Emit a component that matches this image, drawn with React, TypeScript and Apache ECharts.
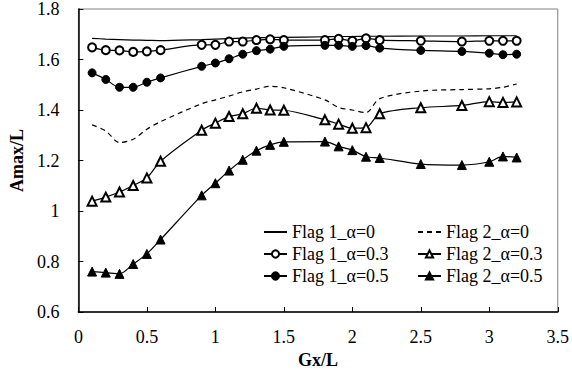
import React, { useEffect, useRef, useState } from "react";
import * as echarts from "echarts";

const xValues = [0.1, 0.2, 0.3, 0.4, 0.5, 0.6, 0.9, 1.0, 1.1, 1.2, 1.3, 1.4, 1.5, 1.8, 1.9, 2.0, 2.1, 2.2, 2.5, 2.8, 3.0, 3.1, 3.2];

const flag1Alpha0 = [1.684, 1.681, 1.679, 1.677, 1.676, 1.675, 1.679, 1.681, 1.683, 1.685, 1.686, 1.687, 1.688, 1.690, 1.691, 1.691, 1.692, 1.692, 1.693, 1.693, 1.694, 1.694, 1.694];
const flag1Alpha03 = [1.648, 1.637, 1.636, 1.630, 1.632, 1.637, 1.658, 1.658, 1.671, 1.671, 1.677, 1.680, 1.677, 1.677, 1.682, 1.674, 1.684, 1.677, 1.674, 1.671, 1.674, 1.674, 1.674];
const flag1Alpha05 = [1.547, 1.521, 1.490, 1.490, 1.510, 1.527, 1.573, 1.586, 1.603, 1.621, 1.635, 1.641, 1.652, 1.656, 1.656, 1.652, 1.655, 1.645, 1.636, 1.632, 1.625, 1.619, 1.621];
const flag2Alpha0 = [1.341, 1.317, 1.271, 1.284, 1.324, 1.354, 1.425, 1.44, 1.455, 1.472, 1.483, 1.494, 1.488, 1.44, 1.41, 1.40, 1.39, 1.445, 1.475, 1.481, 1.484, 1.49, 1.503];
const flag2Alpha03 = [1.039, 1.055, 1.075, 1.101, 1.131, 1.197, 1.320, 1.348, 1.374, 1.385, 1.407, 1.400, 1.399, 1.361, 1.344, 1.328, 1.330, 1.385, 1.409, 1.418, 1.433, 1.430, 1.432];
const flag2Alpha05 = [0.760, 0.756, 0.751, 0.790, 0.830, 0.887, 1.062, 1.110, 1.160, 1.203, 1.239, 1.262, 1.274, 1.275, 1.256, 1.241, 1.215, 1.210, 1.186, 1.182, 1.195, 1.216, 1.212];

const seriesNames = [
  "Flag 1_α=0",
  "Flag 1_α=0.3",
  "Flag 1_α=0.5",
  "Flag 2_α=0",
  "Flag 2_α=0.3",
  "Flag 2_α=0.5",
];

const FONT = "Liberation Serif";

const pair = (ys: number[]) => xValues.map((x, i) => [x, ys[i]]);

const makeSeries = (name: string, ys: number[], symbol: string, size: number, dashed = false) => ({
  type: "line",
  name,
  data: pair(ys),
  smooth: 0.3,
  symbol,
  symbolSize: size,
  showSymbol: symbol !== "none",
  color: "#000",
  lineStyle: { color: "#000", width: 1.2, type: dashed ? [5, 4] : "solid" },
  itemStyle: { color: "#000", borderColor: "#000", borderWidth: 1 },
  emphasis: { disabled: true },
});

export default function App() {
  const ref = useRef<HTMLDivElement>(null);
  const [tick, setTick] = useState(0);
  useEffect(() => {
    if (!ref.current) return;
    const chart = echarts.init(ref.current, null, { renderer: "svg" });
    const legendCommon = () => ({
      orient: "vertical",
      top: 218,
      itemWidth: 23,
      itemHeight: 9,
      itemGap: 4,
      textStyle: { fontFamily: FONT, fontSize: 18, color: "#000" },
      selectedMode: false,
    });
    const noMarker = (name: string) => ({ name, itemStyle: { opacity: 0 } });
    chart.setOption({
      animation: false,
      textStyle: { fontFamily: FONT },
      grid: {
        left: 73,
        right: 13,
        top: 7,
        bottom: 64,
        show: true,
        borderColor: "#808080",
        borderWidth: 1,
      },
      xAxis: {
        type: "value",
        min: 0,
        max: 3.5,
        interval: 0.5,
        name: "Gx/L",
        nameLocation: "middle",
        nameGap: 39,
        nameTextStyle: { fontFamily: FONT, fontSize: 18, fontWeight: "bold", color: "#000" },
        axisLine: { show: true, lineStyle: { color: "#000", width: 1.5 } },
        axisTick: { show: true, inside: true, length: 5, lineStyle: { color: "#000" } },
        axisLabel: { fontFamily: FONT, fontSize: 18, color: "#000", margin: 16 },
        splitLine: { show: false },
      },
      yAxis: {
        type: "value",
        min: 0.6,
        max: 1.8,
        interval: 0.2,
        name: "Amax/L",
        nameLocation: "middle",
        nameGap: 52,
        nameTextStyle: { fontFamily: FONT, fontSize: 18, fontWeight: "bold", color: "#000" },
        axisLine: { show: true, lineStyle: { color: "#000", width: 1.5 } },
        axisTick: { show: true, inside: true, length: 5, lineStyle: { color: "#000" } },
        axisLabel: { fontFamily: FONT, fontSize: 18, color: "#000", margin: 19 },
        splitLine: { show: false },
      },
      legend: [
        { ...legendCommon(), left: 258, data: [noMarker(seriesNames[0]), seriesNames[1], seriesNames[2]] },
        { ...legendCommon(), left: 412, data: [noMarker(seriesNames[3]), seriesNames[4], seriesNames[5]] },
      ],
      series: [
        makeSeries(seriesNames[0], flag1Alpha0, "none", 0),
        makeSeries(seriesNames[1], flag1Alpha03, "emptyCircle", 8),
        makeSeries(seriesNames[2], flag1Alpha05, "circle", 8),
        makeSeries(seriesNames[3], flag2Alpha0, "none", 0, true),
        makeSeries(seriesNames[4], flag2Alpha03, "emptyTriangle", 9),
        makeSeries(seriesNames[5], flag2Alpha05, "triangle", 9),
      ],
    } as any);
    const timer = setTimeout(() => {
      chart.resize();
      setTick(1);
    }, 120);
    return () => {
      clearTimeout(timer);
      chart.dispose();
    };
  }, []);
  return (
    <div style={{ position: "absolute", left: 0, top: 0, width: 572, height: 376 }}>
      <style>{"svg text { font-family: 'Liberation Serif', serif !important; }"}</style>
      <div ref={ref} style={{ width: 572, height: 376, fontFamily: FONT }} />
      <span style={{ position: "absolute", left: 0, top: 0, width: 0, height: 0, overflow: "hidden" }} data-t={tick}></span>
    </div>
  );
}
